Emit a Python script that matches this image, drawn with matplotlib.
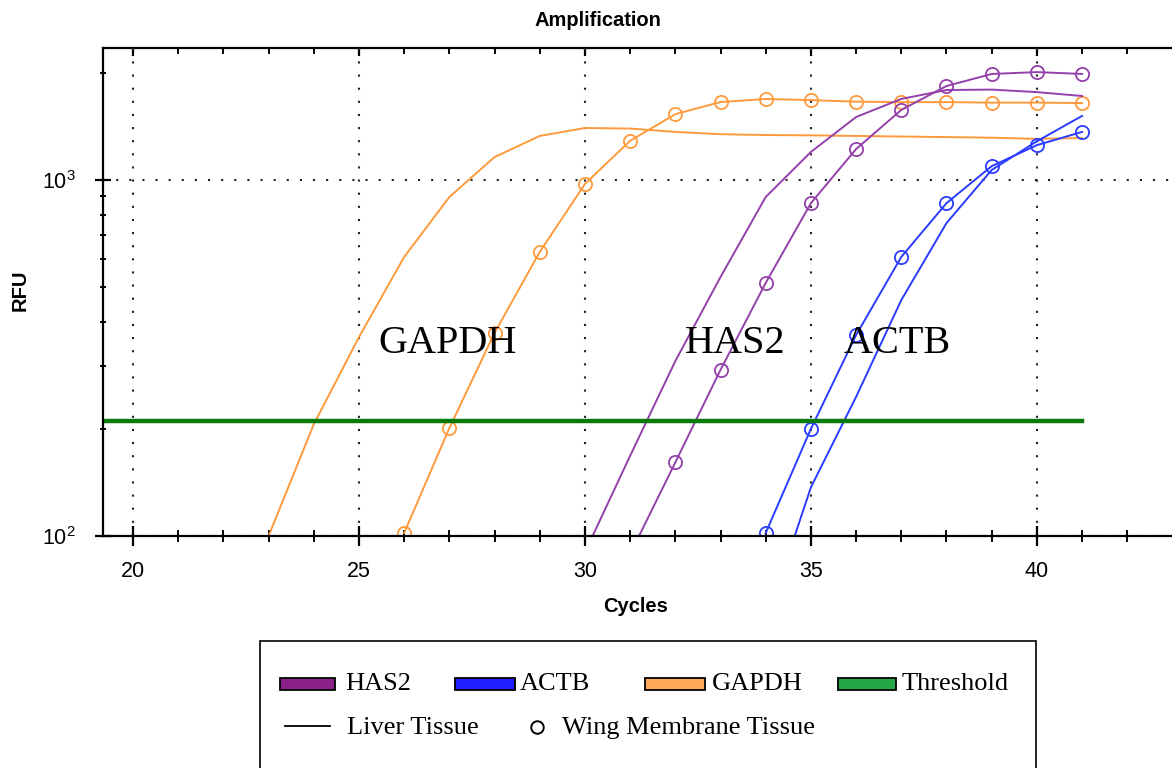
# amplification_plot.py
# qPCR amplification curves (RFU vs cycles, log scale) with threshold line

import matplotlib
matplotlib.use("Agg")
import matplotlib.pyplot as plt
from matplotlib.patches import Rectangle
from matplotlib.lines import Line2D
from matplotlib.ticker import MultipleLocator, LogLocator, NullFormatter


# ----------------------------
# Data
# ----------------------------
GAPDH_LIVER_CYC = [23, 24, 25, 26, 27, 28, 29, 30, 31, 32, 33, 34, 35, 36, 37, 38, 39, 40, 41]
GAPDH_LIVER_RFU = [100, 206, 362, 608, 896, 1160, 1330, 1400, 1395, 1365, 1345, 1338,
                   1335, 1330, 1325, 1320, 1315, 1305, 1312]

GAPDH_WING_CYC = [26, 27, 28, 29, 30, 31, 32, 33, 34, 35, 36, 37, 38, 39, 40, 41]
GAPDH_WING_RFU = [102, 201, 372, 628, 975, 1289, 1531, 1656, 1689, 1677, 1660,
                  1655, 1655, 1650, 1650, 1645]

HAS2_LIVER_CYC = [30, 31, 32, 33, 34, 35, 36, 37, 38, 39, 40, 41]
HAS2_LIVER_RFU = [90, 168, 310, 534, 896, 1199, 1503, 1690, 1790, 1795, 1766, 1722]

HAS2_WING_CYC = [31, 32, 33, 34, 35, 36, 37, 38, 39, 40, 41]
HAS2_WING_RFU = [89, 161, 293, 514, 861, 1222, 1574, 1837, 1986, 2010, 1986]

ACTB_LIVER_CYC = [34, 35, 36, 37, 38, 39, 40, 41]
ACTB_LIVER_RFU = [57, 137, 246, 460, 757, 1067, 1285, 1514]

ACTB_WING_CYC = [34, 35, 36, 37, 38, 39, 40, 41]
ACTB_WING_RFU = [102, 200, 367, 608, 861, 1094, 1253, 1365]

THRESHOLD = 210
THRESHOLD_END = 41

GENE_LABELS = ["GAPDH", "HAS2", "ACTB"]
GENE_LABEL_X = [26.95, 33.32, 36.9]
GENE_LABEL_Y = [348, 348, 348]

LEGEND_GENES = ["HAS2", "ACTB", "GAPDH", "Threshold"]
LEGEND_TISSUES = ["Liver Tissue", "Wing Membrane Tissue"]


# ----------------------------
# Style
# ----------------------------
W, H = 1172, 768
C_HAS2 = "#9440aa"
C_ACTB = "#2a3cff"
C_GAPDH = "#ff9a3c"
C_THR = "#0a7a0a"
PATCH_COLORS = ["#8b208b", "#1e1eff", "#ffaa5a", "#22a845"]

SANS = ["Liberation Sans", "DejaVu Sans"]
SERIF = ["Liberation Serif", "DejaVu Serif"]

plt.rcParams["font.family"] = SANS


def fx(px):
    return px / W


def fy(py):
    return 1 - py / H


fig = plt.figure(figsize=(W / 100, H / 100), dpi=100)
ax = fig.add_axes([fx(103), fy(536), fx(1172) - fx(103), fy(48) - fy(536)])

ax.set_yscale("log")
ax.set_xlim(19.336, 42.99)
ax.set_ylim(100, 2349)

# curves
line_kw = dict(lw=1.4)
mark_kw = dict(lw=1.4, marker="o", ms=9.5, mfc="none", mew=1.3)

ax.plot(GAPDH_LIVER_CYC, GAPDH_LIVER_RFU, color=C_GAPDH, **line_kw)
ax.plot(GAPDH_WING_CYC, GAPDH_WING_RFU, color=C_GAPDH, **mark_kw)
ax.plot(HAS2_LIVER_CYC, HAS2_LIVER_RFU, color=C_HAS2, **line_kw)
ax.plot(HAS2_WING_CYC, HAS2_WING_RFU, color=C_HAS2, **mark_kw)
ax.plot(ACTB_LIVER_CYC, ACTB_LIVER_RFU, color=C_ACTB, **line_kw)
ax.plot(ACTB_WING_CYC, ACTB_WING_RFU, color=C_ACTB, **mark_kw)

ax.plot([ax.get_xlim()[0], THRESHOLD_END], [THRESHOLD, THRESHOLD], color=C_THR, lw=3.2)

for lab, x, y in zip(GENE_LABELS, GENE_LABEL_X, GENE_LABEL_Y):
    ax.text(x, y, lab, family=SERIF, fontsize=29, ha="center", va="center", zorder=5)

# axes / ticks
ax.xaxis.set_major_locator(MultipleLocator(5))
ax.xaxis.set_minor_locator(MultipleLocator(1))
ax.yaxis.set_major_locator(LogLocator(base=10))
ax.yaxis.set_minor_locator(LogLocator(base=10, subs=range(2, 10)))
ax.yaxis.set_minor_formatter(NullFormatter())

ax.tick_params(axis="x", which="major", direction="inout", length=14, width=1.6,
               pad=11, labelsize=15.5, top=False)
ax.tick_params(axis="x", which="minor", direction="inout", length=8, width=1.4, top=False)
ax.tick_params(axis="y", which="major", direction="inout", length=11, width=1.6,
               pad=14, labelsize=15.5, right=False)
ax.tick_params(axis="y", which="minor", direction="inout", length=5, width=1.4, right=False)

ax.grid(True, which="major", color="#222222", lw=1.5, linestyle=(0, (1, 5.3)))

for side in ["left", "bottom"]:
    ax.spines[side].set_linewidth(1.6)
ax.spines["right"].set_visible(False)
ax.spines["top"].set_visible(False)

top = ax.secondary_xaxis("top")
top.xaxis.set_major_locator(MultipleLocator(5))
top.xaxis.set_minor_locator(MultipleLocator(1))
top.tick_params(which="major", direction="in", length=5.5, width=1.6, labeltop=False)
top.tick_params(which="minor", direction="in", length=4, width=1.4)
top.spines["top"].set_linewidth(1.6)

# titles
fig.text(fx(598), fy(21), "Amplification", fontsize=14.5, fontweight="bold",
         ha="center", va="center")
fig.text(fx(636), fy(606), "Cycles", fontsize=14.5, fontweight="bold",
         ha="center", va="center")
fig.text(fx(20), fy(290), "RFU", fontsize=14.5, fontweight="bold",
         ha="center", va="center", rotation=90)

# ----------------------------
# Manual legend box (bottom edge runs off the picture)
# ----------------------------
fig.patches.append(Rectangle((fx(260), fy(800)), fx(1036) - fx(260), fy(641) - fy(800),
                             transform=fig.transFigure, fill=False, ec="black", lw=1.2))

patch_x = [280, 455, 645, 838]
patch_w = [55, 60, 60, 58]
text_x = [345, 520, 712, 902]
for lab, c, px, pw, tx in zip(LEGEND_GENES, PATCH_COLORS, patch_x, patch_w, text_x):
    fig.patches.append(Rectangle((fx(px), fy(690)), fx(pw), fy(678) - fy(690),
                                 transform=fig.transFigure, fc=c, ec="black", lw=1.3))
    fig.text(fx(tx), fy(684), lab, family=SERIF, fontsize=19, ha="left", va="center")

fig.lines.append(Line2D([fx(285), fx(330)], [fy(726), fy(726)], transform=fig.transFigure,
                        color="black", lw=1.3))
fig.text(fx(347), fy(728), LEGEND_TISSUES[0], family=SERIF, fontsize=19, ha="left", va="center")
fig.lines.append(Line2D([fx(537)], [fy(727)], transform=fig.transFigure, marker="o",
                        ms=9, mfc="none", mec="black", mew=1.4, ls="none"))
fig.text(fx(562), fy(728), LEGEND_TISSUES[1], family=SERIF, fontsize=19, ha="left", va="center")

fig.savefig("out.png", dpi=100)
